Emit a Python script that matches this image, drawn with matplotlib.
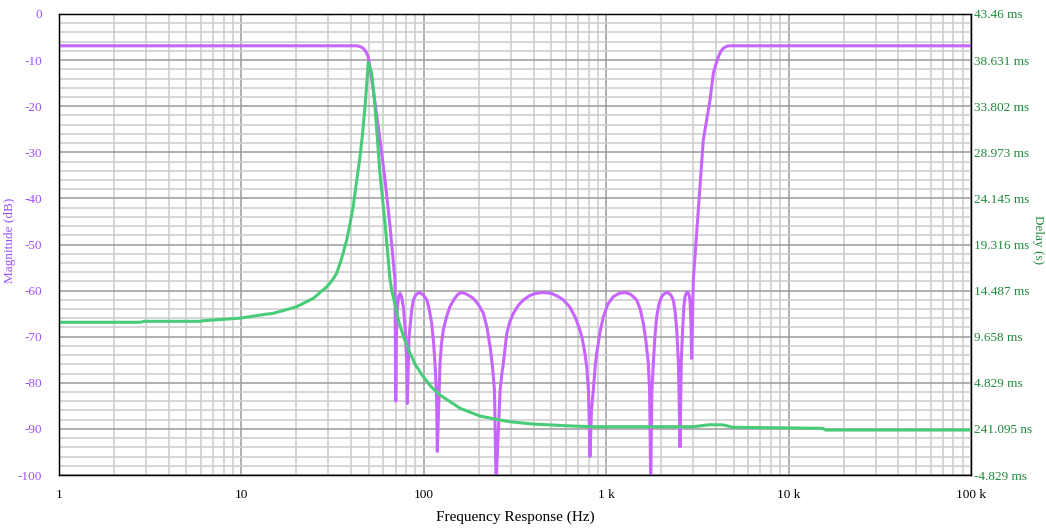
import numpy as np
import matplotlib
matplotlib.use("Agg")
import matplotlib.pyplot as plt
from matplotlib.ticker import LogLocator, NullFormatter, MultipleLocator

# === Data ===
# magnitude response (Hz, dB)
mag_freq = [1, 42.9, 45, 46.6, 48.2, 49.6, 52.9, 57.5, 61.3, 65.3, 69.5, 70.2,
            70.8, 71.6, 72.8, 74.1, 75.5, 77.2, 79, 80.5, 81.2,
            83, 85.8, 87.7, 90.5, 94.5, 99, 103.8, 107, 110.5, 113, 115.2, 117.5, 118.6,
            122.7, 125, 128, 133, 139, 147, 154, 161, 170, 179, 187, 199, 212,
            222, 231, 238, 244, 249,
            262, 268, 273, 285, 296, 310, 330, 352, 380, 410, 452, 500, 540,
            582, 630, 675, 710, 735, 760, 782, 800, 815,
            830, 849.6, 870, 887, 925, 964.5, 1020, 1094, 1180, 1268, 1360,
            1469, 1540, 1597, 1650, 1702, 1730, 1754,
            1780, 1813, 1850, 1891, 1950, 2015, 2090, 2174, 2255, 2333, 2390,
            2436, 2490, 2540,
            2580, 2625, 2665, 2704, 2750, 2799, 2840, 2879, 2910, 2943,
            3003, 3407, 3707, 3866, 4000, 4121, 4250, 4386, 4570, 4772, 100000]
mag_db = [-6.9, -6.9, -7.1, -7.45, -8.2, -9.3, -16.5, -27.3, -36.0, -46.1, -57.7, -84.0,
          -70.0, -64.0, -61.2, -60.6, -61.3, -63.5, -68.0, -75.0, -84.5,
          -70.0, -64.2, -62.0, -60.9, -60.4, -60.9, -62.0, -64.0, -67.1, -71.0, -75.8, -83.0, -94.9,
          -75.8, -71.5, -68.5, -65.8, -63.5, -61.8, -60.8, -60.4, -60.7, -61.2, -61.7, -63.0, -64.9,
          -68.0, -72.2, -76.5, -81.6, -102,
          -81.6, -78.0, -75.8, -69.3, -66.8, -64.9, -63.2, -62.0, -61.1, -60.6, -60.4, -60.6, -61.2,
          -62.0, -63.5, -65.7, -68.0, -70.0, -73.0, -76.5, -82.0, -96.0,
          -86.0, -81.6, -76.5, -73.6, -69.0, -65.7, -63.0, -61.3, -60.6, -60.4, -60.8,
          -62.0, -64.2, -67.1, -70.8, -75.8, -82.0, -102,
          -82.0, -75.8, -70.0, -65.7, -62.8, -61.3, -60.6, -60.4, -60.9, -62.0, -64.8,
          -68.5, -76.0, -93.9,
          -75.0, -68.5, -63.5, -61.3, -60.5, -60.4, -60.8, -62.0, -66.0, -74.7,
          -57.7, -27.3, -18.7, -12.9, -10.8, -9.3, -8.1, -7.45, -7.0, -6.9, -6.9]

# group delay (Hz, ms)
dly_freq = [1, 2.82, 2.9, 5.93, 6.16, 9.82, 13.8, 14.9, 17.0, 20.1, 24.8, 29.4, 31.3,
            33.3, 35.5, 37.8, 39.4, 41.0, 43.0, 44.7, 46.2, 47.6, 48.7, 49.6,
            51.8, 54.0, 57.5, 61.3, 65.3, 66.7, 73.0, 78.0, 84.0, 90.0, 99.4,
            110, 122.7, 158, 203, 262, 297, 397,
            607, 815, 2540, 2992, 3707, 4365, 4957, 15440, 15900, 100000]
dly_ms = [11.17, 11.17, 11.27, 11.27, 11.33, 11.60, 12.03, 12.10, 12.40, 12.80, 13.68, 14.89, 15.50,
          16.30, 17.90, 19.79, 21.50, 23.27, 26.20, 28.51, 31.00, 33.75, 36.20, 38.40,
          37.25, 33.75, 26.77, 21.54, 15.60, 14.55, 11.20, 9.50, 7.95, 6.70, 5.47,
          4.40, 3.55, 2.16, 1.35, 0.93, 0.75, 0.51,
          0.33, 0.23, 0.23, 0.23, 0.44, 0.42, 0.17, 0.06, -0.12, -0.12]

x_ticks = [1, 10, 100, 1000, 10000, 100000]
x_labels = ["1", "10", "100", "1 k", "10 k", "100 k"]
mag_ticks = list(range(-100, 1, 10))
dly_labels = ["-4.829 ms", "241.095 ns", "4.829 ms", "9.658 ms", "14.487 ms",
              "19.316 ms", "24.145 ms", "28.973 ms", "33.802 ms", "38.631 ms",
              "43.46 ms"]

# === Style ===
plt.rcParams['font.family'] = ['Liberation Serif', 'DejaVu Serif']
purple = "#c864ff"
purple_txt = "#a050ff"
green = "#48cc78"
green_txt = "#208a3c"

fig = plt.figure(figsize=(10.46, 5.28), dpi=100)
ax = fig.add_axes([59 / 1046, 53 / 528, 912 / 1046, 461 / 528])
ax.set_xscale("log")
ax.set_xlim(1, 100000)
ax.set_ylim(-100, 0)

# grid
ax.xaxis.set_major_locator(LogLocator(base=10))
ax.xaxis.set_minor_locator(LogLocator(base=10, subs=np.arange(2, 10)))
ax.xaxis.set_minor_formatter(NullFormatter())
ax.yaxis.set_major_locator(MultipleLocator(10))
ax.yaxis.set_minor_locator(MultipleLocator(2))
ax.grid(which="major", color="#9a9a9a", linewidth=1.1)
ax.grid(which="minor", color="#cccccc", linewidth=1.1)
ax.set_axisbelow(True)

ax.plot(mag_freq, mag_db, color=purple, linewidth=2.2, solid_joinstyle="round")

ax.set_xticks(x_ticks)
ax.set_xticklabels(x_labels)
ax.set_yticks(mag_ticks)
ax.set_yticklabels([str(v) for v in mag_ticks])
ax.tick_params(which="both", length=0)
ax.tick_params(axis="x", pad=10, labelsize=9.5, colors="black")
ax.tick_params(axis="y", pad=12, labelsize=9.5, labelcolor=purple_txt)
ax.set_xlabel("Frequency Response (Hz)", fontsize=11)
ax.xaxis.set_label_coords(0.5, -0.077)
ax.set_ylabel("Magnitude (dB)", fontsize=9.5, color=purple_txt)
ax.yaxis.set_label_coords(-0.047, 0.51)

for s in ax.spines.values():
    s.set_color("black")
    s.set_linewidth(1.0)

# === Delay axis ===
ax2 = ax.twinx()
ax2.set_ylim(-4.829, 43.46)
ax2.plot(dly_freq, dly_ms, color=green, linewidth=2.2, solid_joinstyle="round")
ax2.set_yticks(np.linspace(-4.829, 43.46, 11))
ax2.set_yticklabels(dly_labels)
ax2.tick_params(length=0, pad=2.5, labelsize=9.5, labelcolor=green_txt)
ax2.set_ylabel("Delay (s)", fontsize=9.5, color=green_txt, rotation=-90, va="center")
ax2.yaxis.set_label_coords(1.073, 0.51)
ax2.set_xlim(1, 100000)

fig.savefig("out.png", dpi=100)
